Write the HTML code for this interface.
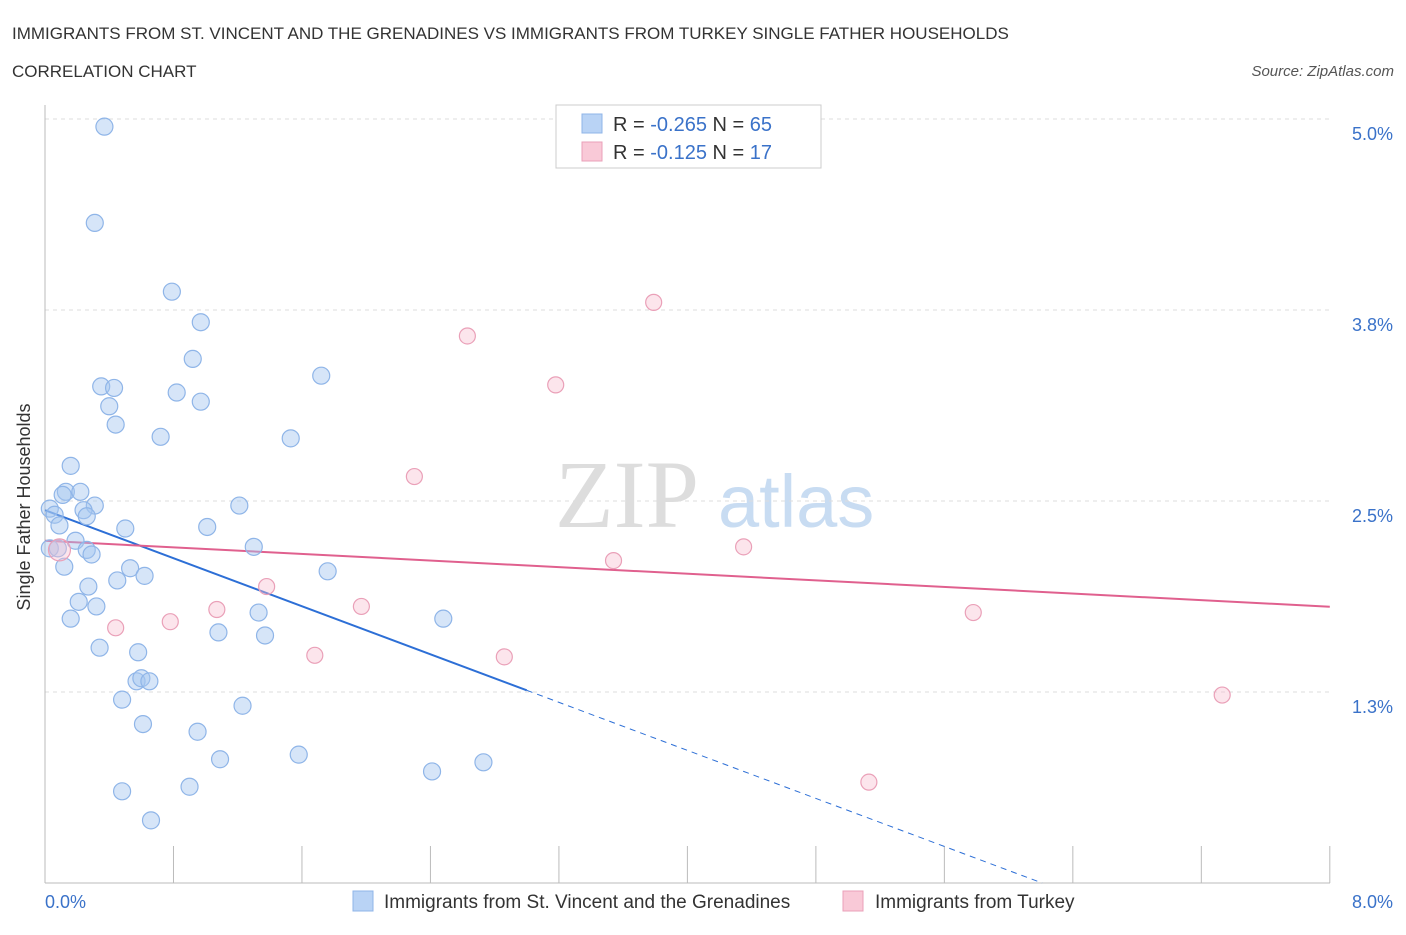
<!DOCTYPE html>
<html><head><meta charset="utf-8"><style>
body{margin:0;background:#fff;font-family:"Liberation Sans",sans-serif}
svg text{font-family:"Liberation Sans",sans-serif}
</style></head><body>
<svg id="c" width="1406" height="930">
<text x="12" y="39" font-size="17" fill="#333">IMMIGRANTS FROM ST. VINCENT AND THE GRENADINES VS IMMIGRANTS FROM TURKEY SINGLE FATHER HOUSEHOLDS</text>
<text x="12" y="77" font-size="17" fill="#333">CORRELATION CHART</text>
<text x="1394" y="76" font-size="15" fill="#555" font-style="italic" text-anchor="end">Source: ZipAtlas.com</text>
<g>
<text x="555" y="527" font-size="96" fill="#ddd" font-family="Liberation Serif" style="font-family:'Liberation Serif',serif">ZIP</text>
<text x="718" y="527" font-size="74" fill="#c8dcf2">atlas</text>
</g>
<g id="grid"></g><g id="axes"></g><g id="lines"></g><g id="pts"></g>
<g>
<rect x="556" y="105" width="265" height="63" fill="#fff" stroke="#ccc"/>
<rect x="582" y="114" width="20" height="19" fill="#b9d3f5" stroke="#8fb5e8"/>
<text x="613" y="131" font-size="20" fill="#333">R = <tspan fill="#3a72c9">-0.265</tspan>   N = <tspan fill="#3a72c9">65</tspan></text>
<rect x="582" y="142" width="20" height="19" fill="#f9c9d7" stroke="#eaa0b8"/>
<text x="613" y="159" font-size="20" fill="#333">R =  <tspan fill="#3a72c9">-0.125</tspan>   N =  <tspan fill="#3a72c9">17</tspan></text>
</g>
<g>
<rect x="353" y="891" width="20" height="20" fill="#b9d3f5" stroke="#8fb5e8"/>
<text x="384" y="908" font-size="19" fill="#333">Immigrants from St. Vincent and the Grenadines</text>
<rect x="843" y="891" width="20" height="20" fill="#f9c9d7" stroke="#eaa0b8"/>
<text x="875" y="908" font-size="19" fill="#333">Immigrants from Turkey</text>
</g>
<text x="18" y="495" font-size="18" fill="#333" transform="rotate(-90 30 495)" text-anchor="middle">Single Father Households</text>
</svg>
<script>
const blueX=[0.37,0.31,0.79,0.97,0.92,1.72,0.35,0.43,0.82,0.97,0.40,0.44,0.72,1.53,0.16,0.13,0.22,0.11,0.31,1.21,0.03,0.24,0.06,0.26,0.09,0.50,1.01,0.19,0.03,0.08,0.26,0.29,1.30,0.12,0.53,0.45,0.62,1.76,0.27,0.21,0.32,0.16,1.33,2.48,1.08,1.37,0.34,0.58,0.57,0.60,0.65,0.48,1.23,0.61,0.95,1.58,1.09,2.73,2.41,0.90,0.48,0.66];
const blueY=[4.95,4.32,3.87,3.67,3.43,3.32,3.25,3.24,3.21,3.15,3.12,3.00,2.92,2.91,2.73,2.56,2.56,2.54,2.47,2.47,2.45,2.44,2.41,2.40,2.34,2.32,2.33,2.24,2.19,2.19,2.18,2.15,2.20,2.07,2.06,1.98,2.01,2.04,1.94,1.84,1.81,1.73,1.77,1.73,1.64,1.62,1.54,1.51,1.32,1.34,1.32,1.20,1.16,1.04,0.99,0.84,0.81,0.79,0.73,0.63,0.60,0.41];
const pinkX=[3.79,2.63,3.18,2.30,4.35,3.54,1.38,1.97,1.07,5.78,0.78,0.44,1.68,2.86,7.33,5.13,0.09];
const pinkY=[3.80,3.58,3.26,2.66,2.20,2.11,1.94,1.81,1.79,1.77,1.71,1.67,1.49,1.48,1.23,0.66,2.18];
const yTicks=[5.0,3.75,2.5,1.25];
const yTickLabels=["5.0%","3.8%","2.5%","1.3%"];
const xTickVals=[0,0.8,1.6,2.4,3.2,4.0,4.8,5.6,6.4,7.2,8.0];
const blueTrend=[2.44,-0.393,3.0]; // intercept, slope, solid end
const pinkTrend=[2.24,-0.054];
const X=v=>45+v*160.6, Y=v=>883-v*152.8;
const NS="http://www.w3.org/2000/svg";
function mk(t,a,p){const e=document.createElementNS(NS,t);for(const k in a)e.setAttribute(k,a[k]);p.appendChild(e);return e;}
const grid=document.getElementById('grid'),axes=document.getElementById('axes'),lines=document.getElementById('lines'),pts=document.getElementById('pts');
yTicks.forEach((v,i)=>{
 const l=mk('line',{x1:45,x2:1330,y1:Y(v),y2:Y(v),stroke:'#ddd','stroke-dasharray':'4,4'},grid);
 
 
 const t=mk('text',{x:1393,y:Y(v)+21,'font-size':18,fill:'#3a72c9','text-anchor':'end'},axes);
 t.textContent=yTickLabels[i];
 
 
});
const ax=mk('line',{x1:45,x2:1330,y1:883,y2:883,stroke:'#bbb'},axes);


const ay=mk('line',{x1:45,x2:45,y1:105,y2:883,stroke:'#bbb'},axes);


xTickVals.forEach(v=>{
 const l=mk('line',{x1:X(v),x2:X(v),y1:846,y2:883,stroke:'#bbb'},axes);
 
 
});
[["0.0%",45,'start'],["8.0%",1393,'end']].forEach(a=>{
 const t=mk('text',{x:a[1],y:908,'font-size':18,fill:'#3a72c9','text-anchor':a[2]},axes);
 t.textContent=a[0];
 
 
});
blueX.forEach((x,i)=>{
 const c=mk('circle',{cx:X(x),cy:Y(blueY[i]),r:8.5,fill:'rgba(165,198,240,0.45)',stroke:'#8fb5e8','stroke-width':1.2},pts);
 
 
});
pinkX.forEach((x,i)=>{
 const c=mk('circle',{cx:X(x),cy:Y(pinkY[i]),r:i==16?11:8,fill:'rgba(248,190,208,0.4)',stroke:'#eaa0b8','stroke-width':1.2},pts);
 
 
});
const bf=x=>blueTrend[0]+blueTrend[1]*x;
const b1=mk('line',{x1:X(0),y1:Y(bf(0)),x2:X(blueTrend[2]),y2:Y(bf(blueTrend[2])),stroke:'#2d6fd6','stroke-width':2},lines);


const xz=-blueTrend[0]/blueTrend[1];
const b2=mk('line',{x1:X(blueTrend[2]),y1:Y(bf(blueTrend[2])),x2:X(xz),y2:Y(0),stroke:'#2d6fd6','stroke-width':1,'stroke-dasharray':'6,5'},lines);


const p1=mk('line',{x1:X(0),y1:Y(pinkTrend[0]),x2:X(8),y2:Y(pinkTrend[0]+pinkTrend[1]*8),stroke:'#e0608e','stroke-width':2},lines);


</script>
</body></html>
